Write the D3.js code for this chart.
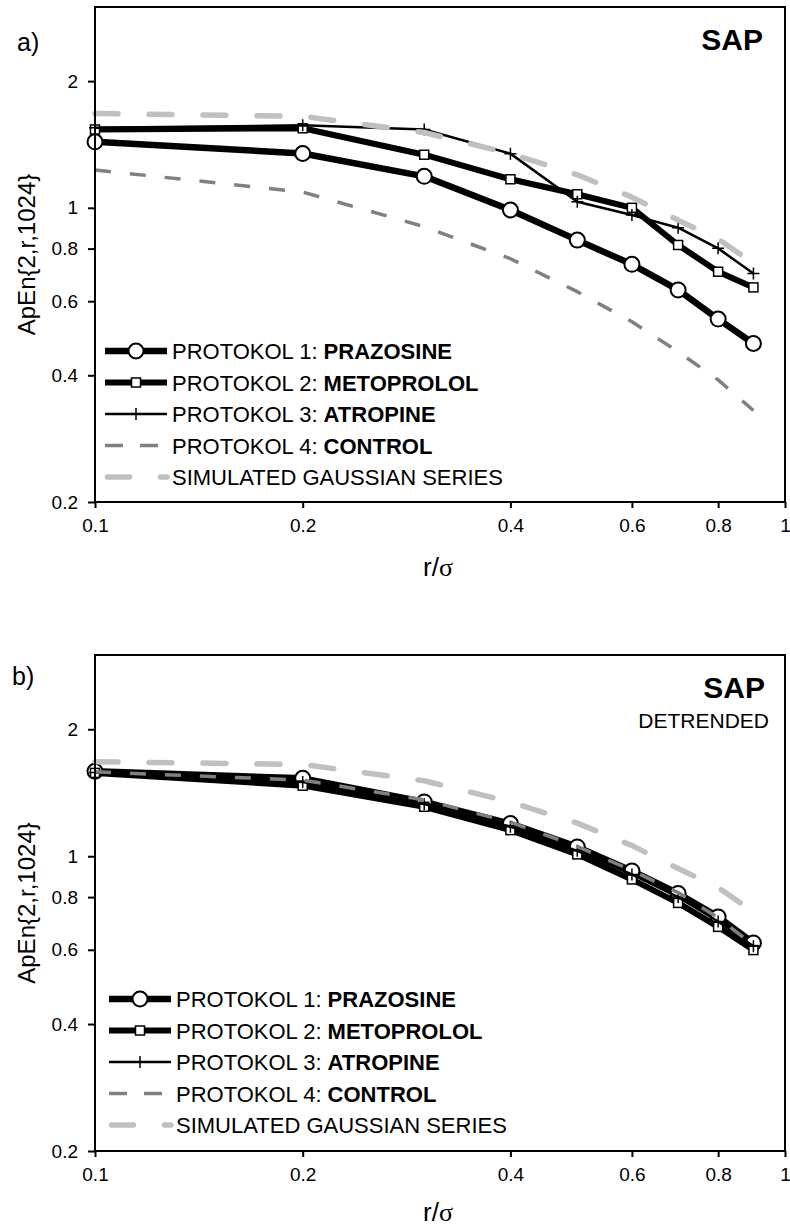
<!DOCTYPE html>
<html>
<head>
<meta charset="utf-8">
<script src="https://cdn.jsdelivr.net/npm/d3@7"></script>
<style>
  body { margin: 0; background: #fff; }
  svg { display: block; font-family: "Liberation Sans", Arial, sans-serif; }
</style>
</head>
<body>
<svg id="chart"></svg>
<script>
// r/sigma values where ApEn was evaluated
const rValues = [0.1, 0.2, 0.3, 0.4, 0.5, 0.6, 0.7, 0.8, 0.9];

// panel a) SAP
const prazosineA = [1.435, 1.346, 1.188, 0.988, 0.838, 0.734, 0.638, 0.544, 0.476];
const metoprololA = [1.535, 1.545, 1.337, 1.169, 1.077, 1.0, 0.816, 0.705, 0.647];
const atropineA = [1.55, 1.57, 1.535, 1.345, 1.034, 0.961, 0.897, 0.801, 0.698];
const controlA = [1.23, 1.09, 0.902, 0.757, 0.632, 0.536, 0.455, 0.39, 0.33];

// panel b) SAP detrended
const prazosineB = [1.59, 1.53, 1.345, 1.195, 1.052, 0.923, 0.816, 0.718, 0.623];
const metoprololB = [1.576, 1.47, 1.31, 1.153, 1.01, 0.881, 0.775, 0.68, 0.599];
const atropineB = [1.58, 1.5, 1.33, 1.175, 1.03, 0.905, 0.8, 0.7, 0.612];
const controlB = [1.585, 1.515, 1.36, 1.205, 1.055, 0.925, 0.82, 0.715, 0.615];

// simulated gaussian series (same in both panels)
const gaussian = [1.676, 1.65, 1.51, 1.345, 1.198, 1.06, 0.935, 0.843, 0.738];

const yTicks = [0.2, 0.4, 0.6, 0.8, 1, 2];
const xTicks = [0.1, 0.2, 0.4, 0.6, 0.8, 1];
const legendPrefix = ["PROTOKOL 1: ", "PROTOKOL 2: ", "PROTOKOL 3: ", "PROTOKOL 4: ", "SIMULATED GAUSSIAN SERIES"];
const legendBold = ["PRAZOSINE", "METOPROLOL", "ATROPINE", "CONTROL", ""];

const svg = d3.select("#chart").attr("width", 790).attr("height", 1229);

// line styles for the five series
const styles = [
    { stroke: "#000", width: 6.5, dash: null, marker: "circle" },
    { stroke: "#000", width: 6, dash: null, marker: "square" },
    { stroke: "#000", width: 2.5, dash: null, marker: "plus" },
    { stroke: "#808080", width: 3.5, dash: "16,19", marker: null },
    { stroke: "#c0c0c0", width: 5.5, dash: "23,31", cap: "round", marker: null }
];

function drawMarker(g, type, x, y) {
    if (type === "circle") {
        g.append("circle").attr("cx", x).attr("cy", y).attr("r", 7.5)
            .attr("fill", "#fff").attr("stroke", "#000").attr("stroke-width", 2);
    } else if (type === "square") {
        g.append("rect").attr("x", x - 4.5).attr("y", y - 4.5).attr("width", 9).attr("height", 9)
            .attr("fill", "#fff").attr("stroke", "#000").attr("stroke-width", 1.5);
    } else if (type === "plus") {
        g.append("path").attr("d", `M${x - 6},${y}H${x + 6}M${x},${y - 6}V${y + 6}`)
            .attr("stroke", "#000").attr("stroke-width", 1.5);
    }
}

function drawPanel(cfg) {
    const left = 95, right = 785;
    const top = cfg.top, bottom = cfg.bottom;

    const x = d3.scaleLog().domain([0.1, 1]).range([left, right]);
    const y = d3.scaleLog().domain([0.2, 3]).range([bottom, top]);

    const g = svg.append("g");

    // y axis
    const yAxis = d3.axisLeft(y).tickValues(yTicks).tickSize(7).tickPadding(10)
        .tickFormat(d => String(d));
    const yG = g.append("g").attr("transform", `translate(${left},0)`).call(yAxis);
    yG.select(".domain").remove();
    yG.selectAll("line").attr("stroke-width", 2);
    yG.selectAll("text").attr("font-size", 19).attr("font-family", "Liberation Sans, Arial, sans-serif").attr("fill", "#000");

    // x axis
    const xAxis = d3.axisBottom(x).tickValues(xTicks).tickSize(6).tickPadding(11)
        .tickFormat(d => String(d));
    const xG = g.append("g").attr("transform", `translate(0,${bottom})`).call(xAxis);
    xG.select(".domain").remove();
    xG.selectAll("line").attr("stroke-width", 2);
    xG.selectAll("text").attr("font-size", 19).attr("font-family", "Liberation Sans, Arial, sans-serif").attr("fill", "#000");

    const line = d3.line().x((d, i) => x(rValues[i])).y(d => y(d));

    cfg.series.forEach((s, k) => {
        const st = styles[k];
        const p = g.append("path").datum(s).attr("d", line)
            .attr("fill", "none").attr("stroke", st.stroke).attr("stroke-width", st.width)
            .attr("stroke-linejoin", "round");
        if (st.dash) p.attr("stroke-dasharray", st.dash);
        if (st.cap) p.attr("stroke-linecap", st.cap);
        if (st.marker) {
            s.forEach((v, i) => drawMarker(g, st.marker, x(rValues[i]), y(v)));
        }
    });

    // frame
    g.append("rect").attr("x", left).attr("y", top).attr("width", right - left).attr("height", bottom - top)
        .attr("fill", "none").attr("stroke", "#000").attr("stroke-width", 2);

    // legend
    const lg = g.append("g");
    legendPrefix.forEach((t, k) => {
        const st = styles[k];
        const ly = cfg.legendY + k * 31.5;
        const x0 = cfg.legendX, x1 = cfg.legendX + 62;
        const l = lg.append("line").attr("x1", x0 + (st.cap ? 2.5 : 0)).attr("x2", x1).attr("y1", ly).attr("y2", ly)
            .attr("stroke", st.stroke).attr("stroke-width", st.width);
        if (st.dash) l.attr("stroke-dasharray", k === 3 ? "18,17" : "22,31");
        if (st.cap) l.attr("stroke-linecap", st.cap);
        if (st.marker) drawMarker(lg, st.marker, cfg.legendX + 31, ly);
        const txt = lg.append("text").attr("x", x1 + 5).attr("y", ly + 8).attr("font-size", 22);
        txt.append("tspan").text(t);
        if (legendBold[k]) txt.append("tspan").attr("font-weight", "bold").text(legendBold[k]);
    });

    // titles
    g.append("text").attr("x", cfg.labelX).attr("y", cfg.labelY).attr("font-size", 25).text(cfg.label);
    g.append("text").attr("x", 763 + cfg.sapShift).attr("y", top + 43).attr("text-anchor", "end")
        .attr("font-size", 30).attr("font-weight", "bold").text("SAP");
    if (cfg.sub) {
        g.append("text").attr("x", 769).attr("y", top + 73).attr("text-anchor", "end")
            .attr("font-size", 21).text(cfg.sub);
    }

    // axis titles
    g.append("text").attr("transform", `translate(35,${(top + bottom) / 2}) rotate(-90)`)
        .attr("text-anchor", "middle").attr("font-size", 24).text("ApEn{2,r,1024}");
    const xt = g.append("text").attr("x", 438).attr("y", bottom + cfg.xTitleGap).attr("text-anchor", "middle").attr("font-size", 26);
    xt.append("tspan").text("r/");
    xt.append("tspan").attr("font-family", "Liberation Serif, Times New Roman, serif").text("σ");
}

drawPanel({
    top: 7, bottom: 502, label: "a)", labelX: 17, labelY: 51,
    series: [prazosineA, metoprololA, atropineA, controlA, gaussian],
    legendX: 105, legendY: 351, sapShift: 0, sub: null, xTitleGap: 74
});

drawPanel({
    top: 655, bottom: 1151, label: "b)", labelX: 12, labelY: 685,
    series: [prazosineB, metoprololB, atropineB, controlB, gaussian],
    legendX: 109, legendY: 999, sapShift: 2, sub: "DETRENDED", xTitleGap: 70
});
</script>
</body>
</html>
